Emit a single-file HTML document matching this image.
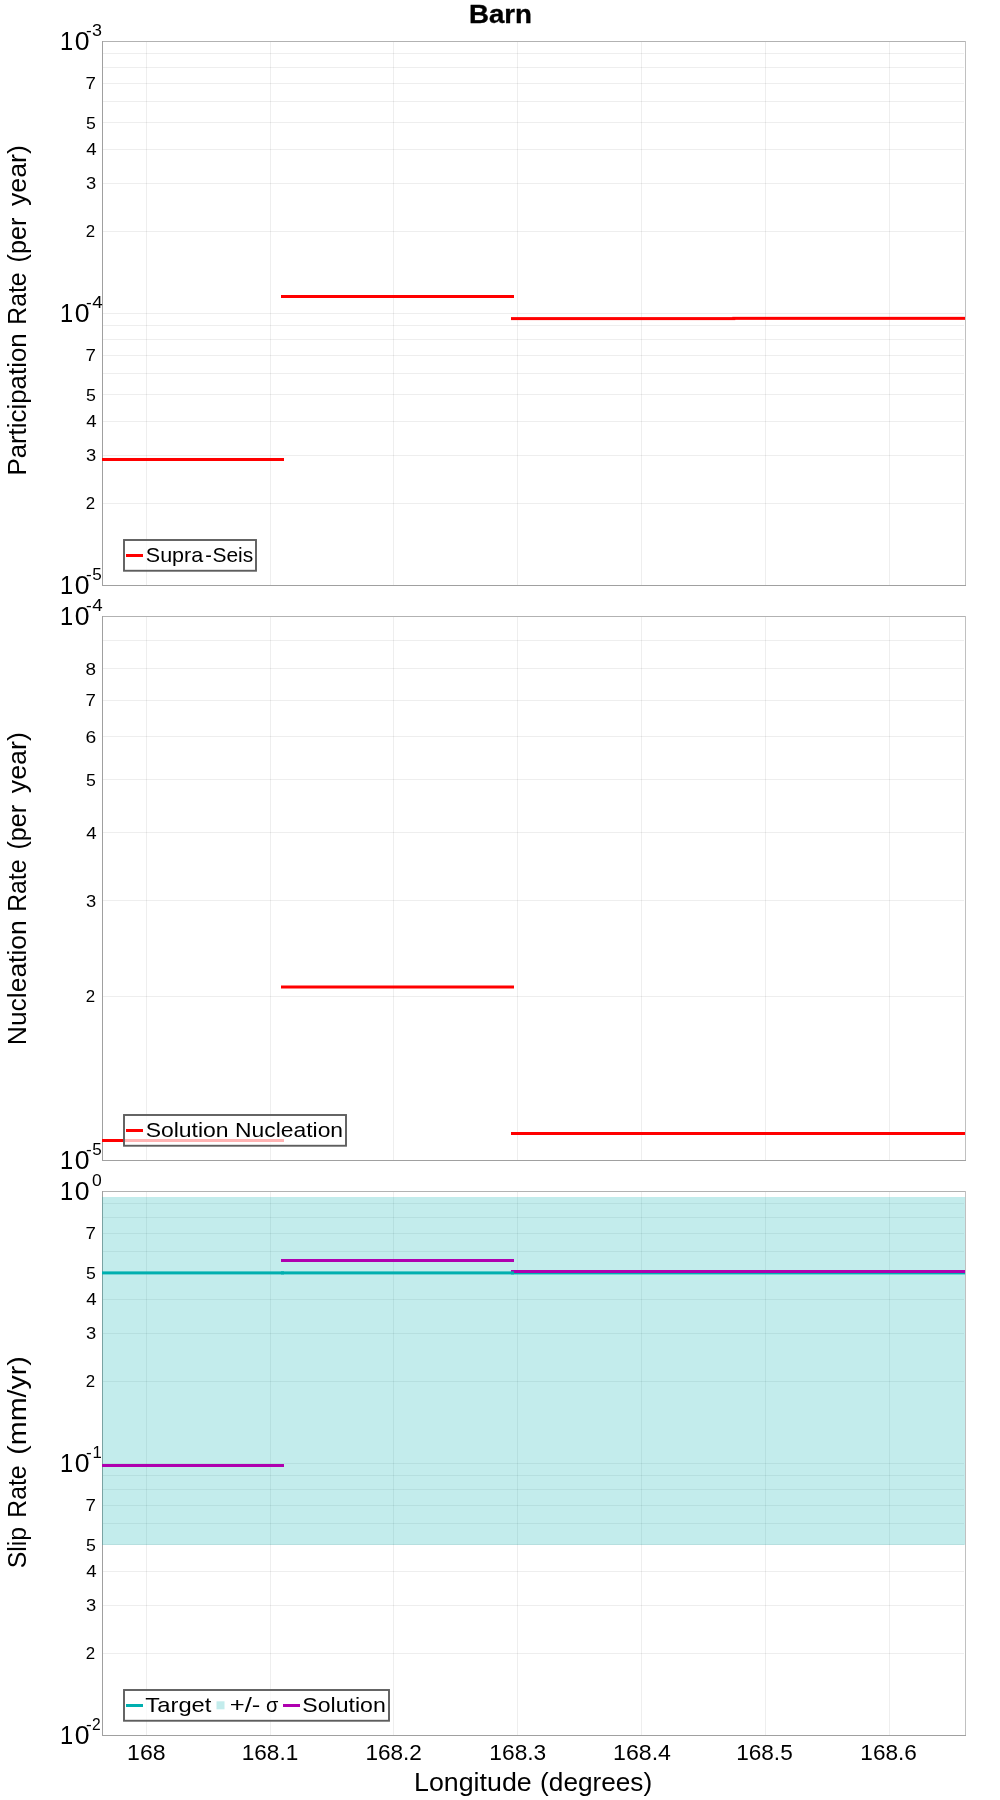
<!DOCTYPE html>
<html><head><meta charset="utf-8"><title>Barn</title>
<style>html,body{margin:0;padding:0;background:#fff}svg{display:block;will-change:transform;transform:translateZ(0)}text{font-family:"Liberation Sans",sans-serif}</style>
</head><body>
<svg width="1000" height="1800" viewBox="0 0 1000 1800" font-family="Liberation Sans, sans-serif">
<rect width="1000" height="1800" fill="#fff"/>
<path d="M146.5 41V585 M270.5 41V585 M393.5 41V585 M517.5 41V585 M641.5 41V585 M765.5 41V585 M889.5 41V585" stroke="#000" stroke-opacity="0.066" fill="none"/>
<path d="M103 585.5H964 M103 503.5H964 M103 455.5H964 M103 421.5H964 M103 394.5H964 M103 373.5H964 M103 355.5H964 M103 339.5H964 M103 325.5H964 M103 313.5H964 M103 231.5H964 M103 183.5H964 M103 149.5H964 M103 122.5H964 M103 101.5H964 M103 83.5H964 M103 67.5H964 M103 53.5H964 M103 41.5H964" stroke="#000" stroke-opacity="0.066" fill="none"/>
<path d="M102 41.5H966" stroke="#b2b2b2"/><path d="M965.5 41V586" stroke="#c0c0c0"/><path d="M102.5 41V586M102 585.5H966" stroke="#a0a0a0" fill="none"/>
<rect x="102" y="458.0" width="182" height="3" fill="#ff0000"/><rect x="281" y="295.0" width="233" height="3" fill="#ff0000"/><rect x="511" y="317.1" width="224.29999999999995" height="3" fill="#ff0000"/><rect x="732.3" y="316.85" width="232.70000000000005" height="3" fill="#ff0000"/><rect x="124" y="540" width="132" height="30.75" fill="#fff" fill-opacity="0.7" stroke="#5e5e5e" stroke-width="1.9"/><rect x="126" y="554" width="17" height="3" fill="#ff0000"/>
<path d="M146.5 616V1160 M270.5 616V1160 M393.5 616V1160 M517.5 616V1160 M641.5 616V1160 M765.5 616V1160 M889.5 616V1160" stroke="#000" stroke-opacity="0.066" fill="none"/>
<path d="M103 1160.5H964 M103 996.5H964 M103 900.5H964 M103 832.5H964 M103 779.5H964 M103 736.5H964 M103 700.5H964 M103 668.5H964 M103 640.5H964 M103 616.5H964" stroke="#000" stroke-opacity="0.066" fill="none"/>
<path d="M102 616.5H966" stroke="#b2b2b2"/><path d="M965.5 616V1161" stroke="#c0c0c0"/><path d="M102.5 616V1161M102 1160.5H966" stroke="#a0a0a0" fill="none"/>
<rect x="102" y="1139.0" width="182" height="3" fill="#ff0000"/><rect x="281" y="985.5" width="233" height="3" fill="#ff0000"/><rect x="511" y="1132.0" width="454" height="3" fill="#ff0000"/><rect x="124" y="1115" width="222" height="30.75" fill="#fff" fill-opacity="0.7" stroke="#5e5e5e" stroke-width="1.9"/><rect x="126" y="1129" width="17" height="3" fill="#ff0000"/>
<path d="M146.5 1191V1735 M270.5 1191V1735 M393.5 1191V1735 M517.5 1191V1735 M641.5 1191V1735 M765.5 1191V1735 M889.5 1191V1735" stroke="#000" stroke-opacity="0.066" fill="none"/>
<path d="M103 1735.5H964 M103 1653.5H964 M103 1605.5H964 M103 1571.5H964 M103 1544.5H964 M103 1523.5H964 M103 1505.5H964 M103 1489.5H964 M103 1475.5H964 M103 1463.5H964 M103 1381.5H964 M103 1333.5H964 M103 1299.5H964 M103 1272.5H964 M103 1251.5H964 M103 1233.5H964 M103 1217.5H964 M103 1203.5H964 M103 1191.5H964" stroke="#000" stroke-opacity="0.066" fill="none"/>
<path d="M102 1191.5H966" stroke="#b2b2b2"/><path d="M965.5 1191V1736" stroke="#c0c0c0"/><path d="M102.5 1191V1736M102 1735.5H966" stroke="#a0a0a0" fill="none"/>
<rect x="102" y="1197" width="863" height="348" fill="#00afaf" fill-opacity="0.235"/><rect x="511" y="1271.4" width="454" height="3" fill="#00afaf"/><rect x="511" y="1270.0" width="454" height="3" fill="#af00af"/><rect x="281" y="1271.4" width="233" height="3" fill="#00afaf"/><rect x="281" y="1259.0" width="233" height="3" fill="#af00af"/><rect x="102" y="1271.4" width="182" height="3" fill="#00afaf"/><rect x="102" y="1464.0" width="182" height="3" fill="#af00af"/><rect x="124" y="1690" width="265" height="30.75" fill="#fff" fill-opacity="0.7" stroke="#5e5e5e" stroke-width="1.9"/><rect x="126" y="1704" width="17" height="3" fill="#00afaf"/><rect x="216.5" y="1701.3" width="8" height="8" fill="#00afaf" fill-opacity="0.235"/><rect x="283" y="1704" width="17" height="3" fill="#af00af"/>
<g fill="#000">
<text x="468.95" y="22.8" font-size="25.3" font-weight="bold" textLength="62.96" lengthAdjust="spacingAndGlyphs" stroke="#000" stroke-width="0.35">Barn</text>
<text x="60.0" y="593.8" font-size="25.5" textLength="13.16" lengthAdjust="spacingAndGlyphs" >1</text>
<text x="74.86" y="593.8" font-size="25.5" textLength="14.78" lengthAdjust="spacingAndGlyphs" >0</text>
<text x="86.13" y="580.0" font-size="16.8" textLength="5.73" lengthAdjust="spacingAndGlyphs" >-</text>
<text x="92.22" y="580.0" font-size="16.8" textLength="9.5" lengthAdjust="spacingAndGlyphs" >5</text>
<text x="85.85" y="509.22" font-size="17.3" textLength="9.4" lengthAdjust="spacingAndGlyphs" >2</text>
<text x="86.0" y="461.32" font-size="17.3" textLength="10.21" lengthAdjust="spacingAndGlyphs" >3</text>
<text x="86.17" y="427.34" font-size="17.3" textLength="10.38" lengthAdjust="spacingAndGlyphs" >4</text>
<text x="86.09" y="400.98" font-size="17.3" textLength="9.86" lengthAdjust="spacingAndGlyphs" >5</text>
<text x="85.64" y="361.23" font-size="17.3" textLength="10.4" lengthAdjust="spacingAndGlyphs" >7</text>
<text x="60.0" y="321.8" font-size="25.5" textLength="13.16" lengthAdjust="spacingAndGlyphs" >1</text>
<text x="74.86" y="321.8" font-size="25.5" textLength="14.78" lengthAdjust="spacingAndGlyphs" >0</text>
<text x="86.13" y="308.0" font-size="16.8" textLength="5.73" lengthAdjust="spacingAndGlyphs" >-</text>
<text x="92.32" y="308.0" font-size="16.8" textLength="10.43" lengthAdjust="spacingAndGlyphs" >4</text>
<text x="85.85" y="237.22" font-size="17.3" textLength="9.4" lengthAdjust="spacingAndGlyphs" >2</text>
<text x="86.0" y="189.32" font-size="17.3" textLength="10.21" lengthAdjust="spacingAndGlyphs" >3</text>
<text x="86.17" y="155.34" font-size="17.3" textLength="10.38" lengthAdjust="spacingAndGlyphs" >4</text>
<text x="86.09" y="128.98" font-size="17.3" textLength="9.86" lengthAdjust="spacingAndGlyphs" >5</text>
<text x="85.64" y="89.23" font-size="17.3" textLength="10.4" lengthAdjust="spacingAndGlyphs" >7</text>
<text x="60.0" y="49.8" font-size="25.5" textLength="13.16" lengthAdjust="spacingAndGlyphs" >1</text>
<text x="74.86" y="49.8" font-size="25.5" textLength="14.78" lengthAdjust="spacingAndGlyphs" >0</text>
<text x="86.13" y="36.0" font-size="16.8" textLength="5.73" lengthAdjust="spacingAndGlyphs" >-</text>
<text x="92.12" y="36.0" font-size="16.8" textLength="9.97" lengthAdjust="spacingAndGlyphs" >3</text>
<text x="60.0" y="1168.8" font-size="25.5" textLength="13.16" lengthAdjust="spacingAndGlyphs" >1</text>
<text x="74.86" y="1168.8" font-size="25.5" textLength="14.78" lengthAdjust="spacingAndGlyphs" >0</text>
<text x="86.13" y="1155.0" font-size="16.8" textLength="5.73" lengthAdjust="spacingAndGlyphs" >-</text>
<text x="92.22" y="1155.0" font-size="16.8" textLength="9.5" lengthAdjust="spacingAndGlyphs" >5</text>
<text x="85.85" y="1002.34" font-size="17.3" textLength="9.4" lengthAdjust="spacingAndGlyphs" >2</text>
<text x="86.0" y="906.55" font-size="17.3" textLength="10.21" lengthAdjust="spacingAndGlyphs" >3</text>
<text x="86.17" y="838.58" font-size="17.3" textLength="10.38" lengthAdjust="spacingAndGlyphs" >4</text>
<text x="86.09" y="785.86" font-size="17.3" textLength="9.86" lengthAdjust="spacingAndGlyphs" >5</text>
<text x="85.42" y="742.79" font-size="17.3" textLength="10.73" lengthAdjust="spacingAndGlyphs" >6</text>
<text x="85.64" y="706.37" font-size="17.3" textLength="10.4" lengthAdjust="spacingAndGlyphs" >7</text>
<text x="85.57" y="674.82" font-size="17.3" textLength="10.55" lengthAdjust="spacingAndGlyphs" >8</text>
<text x="60.0" y="624.8" font-size="25.5" textLength="13.16" lengthAdjust="spacingAndGlyphs" >1</text>
<text x="74.86" y="624.8" font-size="25.5" textLength="14.78" lengthAdjust="spacingAndGlyphs" >0</text>
<text x="86.13" y="611.0" font-size="16.8" textLength="5.73" lengthAdjust="spacingAndGlyphs" >-</text>
<text x="92.32" y="611.0" font-size="16.8" textLength="10.43" lengthAdjust="spacingAndGlyphs" >4</text>
<text x="60.0" y="1743.8" font-size="25.5" textLength="13.16" lengthAdjust="spacingAndGlyphs" >1</text>
<text x="74.86" y="1743.8" font-size="25.5" textLength="14.78" lengthAdjust="spacingAndGlyphs" >0</text>
<text x="86.13" y="1730.0" font-size="16.8" textLength="5.73" lengthAdjust="spacingAndGlyphs" >-</text>
<text x="92.12" y="1730.0" font-size="16.8" textLength="8.67" lengthAdjust="spacingAndGlyphs" >2</text>
<text x="85.85" y="1659.22" font-size="17.3" textLength="9.4" lengthAdjust="spacingAndGlyphs" >2</text>
<text x="86.0" y="1611.32" font-size="17.3" textLength="10.21" lengthAdjust="spacingAndGlyphs" >3</text>
<text x="86.17" y="1577.34" font-size="17.3" textLength="10.38" lengthAdjust="spacingAndGlyphs" >4</text>
<text x="86.09" y="1550.98" font-size="17.3" textLength="9.86" lengthAdjust="spacingAndGlyphs" >5</text>
<text x="85.64" y="1511.23" font-size="17.3" textLength="10.4" lengthAdjust="spacingAndGlyphs" >7</text>
<text x="60.0" y="1471.8" font-size="25.5" textLength="13.16" lengthAdjust="spacingAndGlyphs" >1</text>
<text x="74.86" y="1471.8" font-size="25.5" textLength="14.78" lengthAdjust="spacingAndGlyphs" >0</text>
<text x="86.13" y="1458.0" font-size="16.8" textLength="5.73" lengthAdjust="spacingAndGlyphs" >-</text>
<text x="92.53" y="1458.0" font-size="16.8" textLength="9.29" lengthAdjust="spacingAndGlyphs" >1</text>
<text x="85.85" y="1387.22" font-size="17.3" textLength="9.4" lengthAdjust="spacingAndGlyphs" >2</text>
<text x="86.0" y="1339.32" font-size="17.3" textLength="10.21" lengthAdjust="spacingAndGlyphs" >3</text>
<text x="86.17" y="1305.34" font-size="17.3" textLength="10.38" lengthAdjust="spacingAndGlyphs" >4</text>
<text x="86.09" y="1278.98" font-size="17.3" textLength="9.86" lengthAdjust="spacingAndGlyphs" >5</text>
<text x="85.64" y="1239.23" font-size="17.3" textLength="10.4" lengthAdjust="spacingAndGlyphs" >7</text>
<text x="60.0" y="1199.8" font-size="25.5" textLength="13.16" lengthAdjust="spacingAndGlyphs" >1</text>
<text x="74.86" y="1199.8" font-size="25.5" textLength="14.78" lengthAdjust="spacingAndGlyphs" >0</text>
<text x="92.01" y="1186.0" font-size="16.8" textLength="9.77" lengthAdjust="spacingAndGlyphs" >0</text>
<text x="127.14" y="1759.8" font-size="21.9" textLength="38.51" lengthAdjust="spacingAndGlyphs" >168</text>
<text x="241.78" y="1759.8" font-size="21.9" textLength="56.42" lengthAdjust="spacingAndGlyphs" >168.1</text>
<text x="365.48" y="1759.8" font-size="21.9" textLength="56.45" lengthAdjust="spacingAndGlyphs" >168.2</text>
<text x="489.37" y="1759.8" font-size="21.9" textLength="56.88" lengthAdjust="spacingAndGlyphs" >168.3</text>
<text x="613.04" y="1759.8" font-size="21.9" textLength="57.94" lengthAdjust="spacingAndGlyphs" >168.4</text>
<text x="736.18" y="1759.8" font-size="21.9" textLength="56.52" lengthAdjust="spacingAndGlyphs" >168.5</text>
<text x="860.33" y="1759.8" font-size="21.9" textLength="56.46" lengthAdjust="spacingAndGlyphs" >168.6</text>
<text x="414.05" y="1790.8" font-size="24.9" textLength="117.64" lengthAdjust="spacingAndGlyphs" >Longitude</text>
<text x="540.13" y="1790.8" font-size="24.9" textLength="112.0" lengthAdjust="spacingAndGlyphs" >(degrees)</text>
<text transform="translate(26.2,475.62) rotate(-90)" font-size="25.3" textLength="142.3" lengthAdjust="spacingAndGlyphs">Participation</text>
<text transform="translate(26.2,324.73) rotate(-90)" font-size="25.3" textLength="52.33" lengthAdjust="spacingAndGlyphs">Rate</text>
<text transform="translate(26.2,262.46) rotate(-90)" font-size="25.3" textLength="44.78" lengthAdjust="spacingAndGlyphs">(per</text>
<text transform="translate(26.2,206.07) rotate(-90)" font-size="25.3" textLength="60.98" lengthAdjust="spacingAndGlyphs">year)</text>
<text transform="translate(26.2,1045.17) rotate(-90)" font-size="25.3" textLength="124.88" lengthAdjust="spacingAndGlyphs">Nucleation</text>
<text transform="translate(26.2,911.83) rotate(-90)" font-size="25.3" textLength="52.33" lengthAdjust="spacingAndGlyphs">Rate</text>
<text transform="translate(26.2,849.56) rotate(-90)" font-size="25.3" textLength="44.78" lengthAdjust="spacingAndGlyphs">(per</text>
<text transform="translate(26.2,793.17) rotate(-90)" font-size="25.3" textLength="60.98" lengthAdjust="spacingAndGlyphs">year)</text>
<text transform="translate(26.2,1568.33) rotate(-90)" font-size="25.3" textLength="41.37" lengthAdjust="spacingAndGlyphs">Slip</text>
<text transform="translate(26.2,1517.73) rotate(-90)" font-size="25.3" textLength="52.33" lengthAdjust="spacingAndGlyphs">Rate</text>
<text transform="translate(26.2,1454.68) rotate(-90)" font-size="25.3" textLength="98.55" lengthAdjust="spacingAndGlyphs">(mm/yr)</text>
<text x="145.82" y="561.7" font-size="20.6" textLength="57.38" lengthAdjust="spacingAndGlyphs" >Supra</text>
<text x="205.13" y="561.7" font-size="20.6" textLength="6.55" lengthAdjust="spacingAndGlyphs" >-</text>
<text x="212.45" y="561.7" font-size="20.6" textLength="40.71" lengthAdjust="spacingAndGlyphs" >Seis</text>
<text x="145.66" y="1136.7" font-size="20.6" textLength="82.93" lengthAdjust="spacingAndGlyphs" >Solution</text>
<text x="235.13" y="1136.7" font-size="20.6" textLength="107.96" lengthAdjust="spacingAndGlyphs" >Nucleation</text>
<text x="145.37" y="1711.7" font-size="20.6" textLength="66.11" lengthAdjust="spacingAndGlyphs" >Target</text>
<text x="229.75" y="1711.7" font-size="20.6" textLength="30.59" lengthAdjust="spacingAndGlyphs" >+/-</text>
<text x="266.06" y="1711.7" font-size="20.6" textLength="12.34" lengthAdjust="spacingAndGlyphs" >σ</text>
<text x="302.35" y="1711.7" font-size="20.6" textLength="83.45" lengthAdjust="spacingAndGlyphs" >Solution</text>
</g>
</svg>
</body></html>
